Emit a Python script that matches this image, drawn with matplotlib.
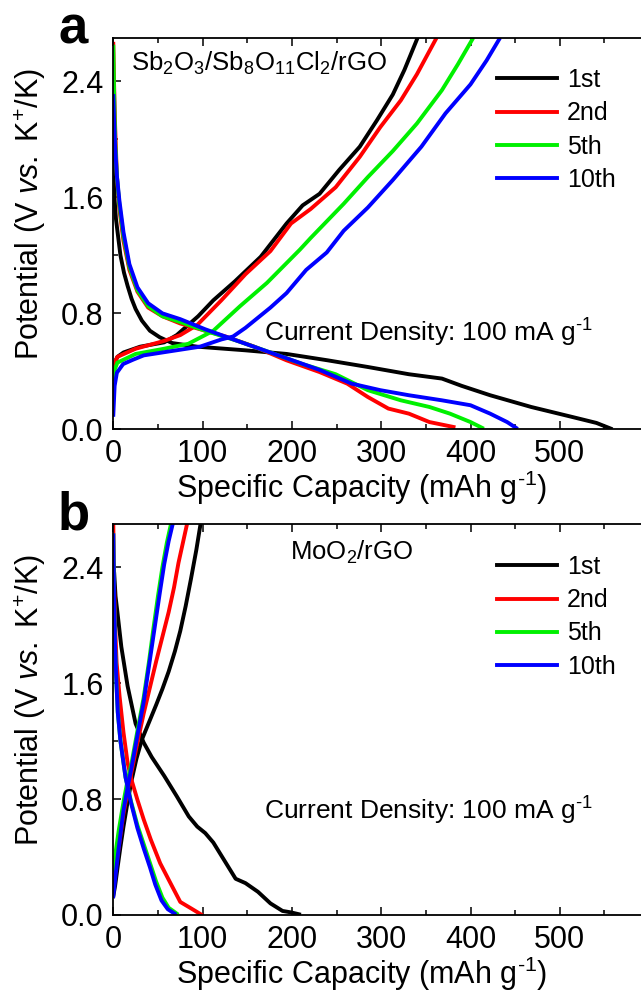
import numpy as np
import matplotlib
matplotlib.use("Agg")
import matplotlib.pyplot as plt
from matplotlib.ticker import MultipleLocator

plt.rcParams['font.family'] = ['Liberation Sans', 'DejaVu Sans']
plt.rcParams['mathtext.fontset'] = 'custom'
plt.rcParams['mathtext.rm'] = 'Liberation Sans'
plt.rcParams['mathtext.it'] = 'Liberation Sans:italic'
plt.rcParams['mathtext.default'] = 'regular'

# ---- data ----
cycles = ['1st', '2nd', '5th', '10th']
colors = ['#000000', '#ff0000', '#00f000', '#0000ff']

# panel a: Sb2O3/Sb8O11Cl2/rGO  (discharge = falling, charge = rising)
a_dis_1st_cap = [0, 0.5, 1.5, 3, 4.6, 8, 12, 16, 20.5, 25, 32, 41, 52, 66, 94, 148, 194, 240, 285, 331, 368, 390, 422, 468, 514, 541, 557]
a_dis_1st_v = [2.0, 1.75, 1.58, 1.45, 1.37, 1.2, 1.08, 0.99, 0.9, 0.83, 0.75, 0.68, 0.635, 0.595, 0.57, 0.545, 0.52, 0.476, 0.43, 0.38, 0.35, 0.30, 0.235, 0.154, 0.085, 0.044, 0.005]
a_dis_2nd_cap = [0, 0.8, 2, 4, 6.8, 11.4, 18, 27, 39, 55, 75, 103, 126, 158, 194, 231, 262, 285, 308, 331, 354, 381]
a_dis_2nd_v = [2.66, 2.4, 2.1, 1.75, 1.52, 1.3, 1.1, 0.95, 0.84, 0.78, 0.73, 0.68, 0.64, 0.57, 0.476, 0.395, 0.315, 0.223, 0.143, 0.108, 0.05, 0.016]
a_dis_5th_cap = [0, 0.8, 2, 4, 6.8, 11.4, 18, 27, 39, 55, 75, 103, 139, 176, 212, 249, 285, 322, 354, 377, 400, 413]
a_dis_5th_v = [2.64, 2.35, 2.0, 1.75, 1.55, 1.33, 1.12, 0.96, 0.85, 0.78, 0.74, 0.68, 0.61, 0.53, 0.45, 0.38, 0.27, 0.2, 0.154, 0.108, 0.05, 0.01]
a_dis_10th_cap = [0, 0.8, 2, 4, 6.8, 11.4, 18, 27, 39, 55, 75, 103, 139, 185, 231, 267, 299, 331, 368, 400, 422, 441, 451]
a_dis_10th_v = [2.30, 2.15, 1.95, 1.75, 1.58, 1.36, 1.14, 0.98, 0.87, 0.80, 0.76, 0.69, 0.61, 0.51, 0.41, 0.315, 0.27, 0.235, 0.2, 0.166, 0.108, 0.05, 0.01]

a_chg_1st_cap = [0, 1.5, 4.6, 11.4, 30, 57, 71, 95, 112, 136, 165, 194, 212, 231, 253, 276, 295, 313, 326, 340]
a_chg_1st_v = [0.41, 0.46, 0.5, 0.53, 0.57, 0.6, 0.65, 0.78, 0.89, 1.02, 1.19, 1.42, 1.545, 1.625, 1.79, 1.95, 2.13, 2.31, 2.48, 2.69]
a_chg_2nd_cap = [0, 1.5, 4.6, 25, 57, 75, 94, 121, 148, 176, 199, 221, 249, 276, 299, 322, 340, 361]
a_chg_2nd_v = [0.42, 0.46, 0.5, 0.556, 0.61, 0.65, 0.72, 0.89, 1.07, 1.23, 1.42, 1.52, 1.67, 1.88, 2.085, 2.27, 2.45, 2.69]
a_chg_5th_cap = [0, 1.5, 4.6, 25, 57, 84, 112, 142, 172, 209, 221, 258, 285, 313, 340, 368, 386, 402]
a_chg_5th_v = [0.35, 0.41, 0.46, 0.52, 0.556, 0.59, 0.68, 0.85, 1.01, 1.24, 1.32, 1.556, 1.74, 1.92, 2.11, 2.34, 2.52, 2.69]
a_chg_10th_cap = [0, 1.5, 4, 11, 22, 34, 60, 97, 121, 134, 148, 164, 176, 194, 216, 239, 258, 285, 313, 345, 372, 400, 418, 432]
a_chg_10th_v = [0.1, 0.3, 0.39, 0.45, 0.48, 0.51, 0.535, 0.57, 0.62, 0.64, 0.70, 0.78, 0.84, 0.94, 1.10, 1.22, 1.37, 1.53, 1.72, 1.95, 2.18, 2.38, 2.545, 2.69]

# panel b: MoO2/rGO
b_dis_1st_cap = [0, 1, 2.5, 4.6, 9, 16, 25, 34, 43, 57, 71, 84.5, 94, 103, 112, 126, 137, 148, 162, 176, 189.5, 199, 208]
b_dis_1st_v = [2.42, 2.36, 2.2, 2.09, 1.85, 1.58, 1.32, 1.19, 1.09, 0.96, 0.82, 0.68, 0.61, 0.565, 0.5, 0.36, 0.25, 0.22, 0.16, 0.08, 0.028, 0.018, 0.005]
b_dis_2nd_cap = [0, 0.8, 2, 3.7, 7, 11.4, 16, 20.5, 27, 34, 42, 52.5, 64, 75, 87, 98]
b_dis_2nd_v = [2.7, 2.3, 2.0, 1.74, 1.51, 1.26, 1.05, 0.93, 0.795, 0.66, 0.52, 0.357, 0.22, 0.09, 0.046, 0.005]
b_dis_5th_cap = [0, 0.8, 2, 3.5, 5, 8, 13.7, 20, 27, 34, 41, 48, 55, 62, 71]
b_dis_5th_v = [2.62, 2.2, 1.85, 1.6, 1.4, 1.2, 0.95, 0.78, 0.62, 0.49, 0.36, 0.23, 0.12, 0.05, 0.01]
b_dis_10th_cap = [0, 0.8, 2, 3.5, 5, 8, 13.7, 20, 27, 34, 41, 47, 54, 61, 68.5]
b_dis_10th_v = [2.62, 2.2, 1.85, 1.6, 1.4, 1.2, 0.95, 0.77, 0.6, 0.46, 0.33, 0.21, 0.1, 0.04, 0.01]

b_chg_1st_cap = [0, 2, 4.6, 8, 11.4, 16, 20.5, 26, 32, 40, 48, 55, 62, 69, 75, 81, 87, 93, 98]
b_chg_1st_v = [0.13, 0.2, 0.32, 0.47, 0.61, 0.78, 0.93, 1.08, 1.21, 1.33, 1.45, 1.56, 1.68, 1.82, 1.96, 2.13, 2.32, 2.52, 2.71]
b_chg_2nd_cap = [0, 3, 6, 11.4, 16, 20.5, 27, 34, 41, 48, 55, 62, 68, 73, 78, 83]
b_chg_2nd_v = [0.2, 0.33, 0.46, 0.7, 0.85, 0.99, 1.19, 1.39, 1.57, 1.75, 1.92, 2.09, 2.26, 2.43, 2.57, 2.71]
b_chg_5th_cap = [0, 3, 6, 11.4, 16, 20.5, 27, 34, 40, 45, 50, 55, 60, 65]
b_chg_5th_v = [0.31, 0.45, 0.58, 0.78, 0.93, 1.05, 1.27, 1.5, 1.75, 1.98, 2.2, 2.4, 2.57, 2.71]
b_chg_10th_cap = [0, 3, 6, 11.4, 16, 20.5, 27, 34, 40, 46, 52, 57, 62, 67]
b_chg_10th_v = [0.13, 0.3, 0.46, 0.72, 0.88, 1.02, 1.24, 1.47, 1.72, 1.97, 2.22, 2.42, 2.58, 2.71]

panel_a = [
    (a_dis_1st_cap, a_dis_1st_v, a_chg_1st_cap, a_chg_1st_v),
    (a_dis_2nd_cap, a_dis_2nd_v, a_chg_2nd_cap, a_chg_2nd_v),
    (a_dis_5th_cap, a_dis_5th_v, a_chg_5th_cap, a_chg_5th_v),
    (a_dis_10th_cap, a_dis_10th_v, a_chg_10th_cap, a_chg_10th_v),
]
panel_b = [
    (b_dis_1st_cap, b_dis_1st_v, b_chg_1st_cap, b_chg_1st_v),
    (b_dis_2nd_cap, b_dis_2nd_v, b_chg_2nd_cap, b_chg_2nd_v),
    (b_dis_5th_cap, b_dis_5th_v, b_chg_5th_cap, b_chg_5th_v),
    (b_dis_10th_cap, b_dis_10th_v, b_chg_10th_cap, b_chg_10th_v),
]

W, H = 641, 1001
fig = plt.figure(figsize=(W / 100, H / 100), dpi=100)


def px(x, y):
    return x / W, 1 - y / H


def make_panel(bottom_px, series, letter, material, letter_y, mat_xy, cd_y, leg_top):
    # axes wider than the canvas, the right part is cut off like in the original
    ax = fig.add_axes([113.3 / W, 1 - bottom_px / H, 535.8 / W, 391.3 / H])
    for (dc, dv, cc, cv), lab, col in zip(series, cycles, colors):
        ax.plot(dc, dv, color=col, lw=2.8, label=lab, solid_joinstyle='round')
        ax.plot(cc, cv, color=col, lw=2.8, solid_joinstyle='round')
    ax.set_xlim(0, 600)
    ax.set_ylim(0, 2.7)
    ax.set_xticks([0, 100, 200, 300, 400, 500])
    ax.xaxis.set_minor_locator(MultipleLocator(50))
    ax.set_yticks([0.0, 0.8, 1.6, 2.4])
    ax.set_yticklabels(['0.0', '0.8', '1.6', '2.4'])
    ax.yaxis.set_minor_locator(MultipleLocator(0.4))
    ax.tick_params(which='both', direction='in', top=True, width=1.1, labelsize=22)
    ax.tick_params(which='major', length=5.5, pad=7)
    ax.tick_params(which='minor', length=3.5)
    for sp in ax.spines.values():
        sp.set_linewidth(1.3)
    ax.legend(loc='upper left', bbox_to_anchor=px(497, leg_top), bbox_transform=fig.transFigure,
              frameon=False, fontsize=18, handlelength=2.4, handletextpad=0.4,
              labelspacing=0.37, borderpad=0, borderaxespad=0)

    fig.text(*px(58, letter_y), letter, fontsize=38, fontweight='bold', va='baseline')
    fig.text(*px(*mat_xy), material, fontsize=18.5, va='baseline')
    fig.text(*px(264, cd_y), 'Current Density: 100 mA g$^{\\text{-}1}$', fontsize=19, va='baseline')
    fig.text(*px(361.5, bottom_px + 69), 'Specific Capacity (mAh g$^{\\text{-}1}$)', fontsize=22,
             ha='center', va='baseline')
    fig.text(*px(30.5, bottom_px - 215), 'Potential (V $\\it{vs.}$ K$^{+}$/K)', fontsize=22,
             rotation=90, ha='center', va='center')
    return ax


make_panel(429.3, panel_a, 'a', 'Sb$_2$O$_3$/Sb$_8$O$_{11}$Cl$_2$/rGO',
           43, (131, 71), 342, 68)
make_panel(915, panel_b, 'b', 'MoO$_2$/rGO',
           530, (290, 560), 820, 555)

fig.savefig('out.png', dpi=100)
